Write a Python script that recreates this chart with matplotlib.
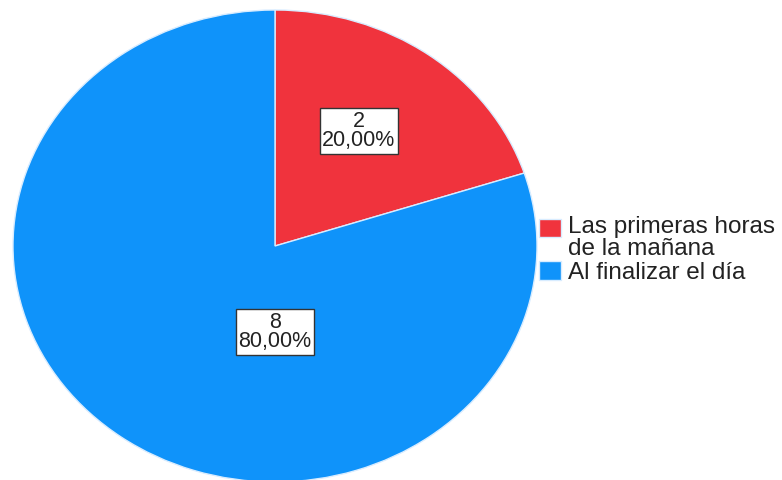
import matplotlib.pyplot as plt
from matplotlib.legend_handler import HandlerPatch
from matplotlib.patches import Rectangle

plt.rcParams['font.family'] = ['Liberation Sans', 'DejaVu Sans']

labels = ['Las primeras horas\nde la mañana', 'Al finalizar el día']
counts = [2, 8]
percents = ['20,00%', '80,00%']
colors = ['#f0333d', '#0f93fa']

fig = plt.figure(figsize=(7.82, 4.8), dpi=100)
# the pie in the reference is stretched into an ellipse
ax = fig.add_axes([13 / 782, -2 / 480, 524 / 782, 472 / 480])

wedges, _ = ax.pie(counts, colors=colors, startangle=90, counterclock=False,
                   wedgeprops=dict(edgecolor='#d8ecff', linewidth=1))
ax.set_aspect('auto')
ax.set_xlim(-1, 1)
ax.set_ylim(-1, 1)

# value labels
label_pos = [(0.32, 0.487), (0.0, -0.364)]
for (x, y), n, p in zip(label_pos, counts, percents):
    ax.text(x, y, f'{n}\n{p}', ha='center', va='center', fontsize=15.5,
            linespacing=0.9, color='#222222',
            bbox=dict(boxstyle='square,pad=0.12', fc='white', ec='#333333', lw=1))


# legend squares: center the one of the two-line entry between its lines
def square(legend, orig_handle, xdescent, ydescent, width, height, fontsize):
    lines = labels[wedges.index(orig_handle)].count('\n')
    return Rectangle((-xdescent, -ydescent + lines * 0.42 * fontsize), width, height)


leg = fig.legend(wedges, labels, loc='center left',
                 bbox_to_anchor=(539 / 782, 1 - 250 / 480), frameon=False,
                 fontsize=17.5, handlelength=0.9, handleheight=0.8,
                 handletextpad=0.3, labelspacing=0.05, borderpad=0, borderaxespad=0,
                 handler_map={w: HandlerPatch(patch_func=square) for w in wedges})
for t in leg.get_texts():
    t.set_linespacing(0.97)
    t.set_color('#222222')

fig.savefig('out.png', dpi=100)
